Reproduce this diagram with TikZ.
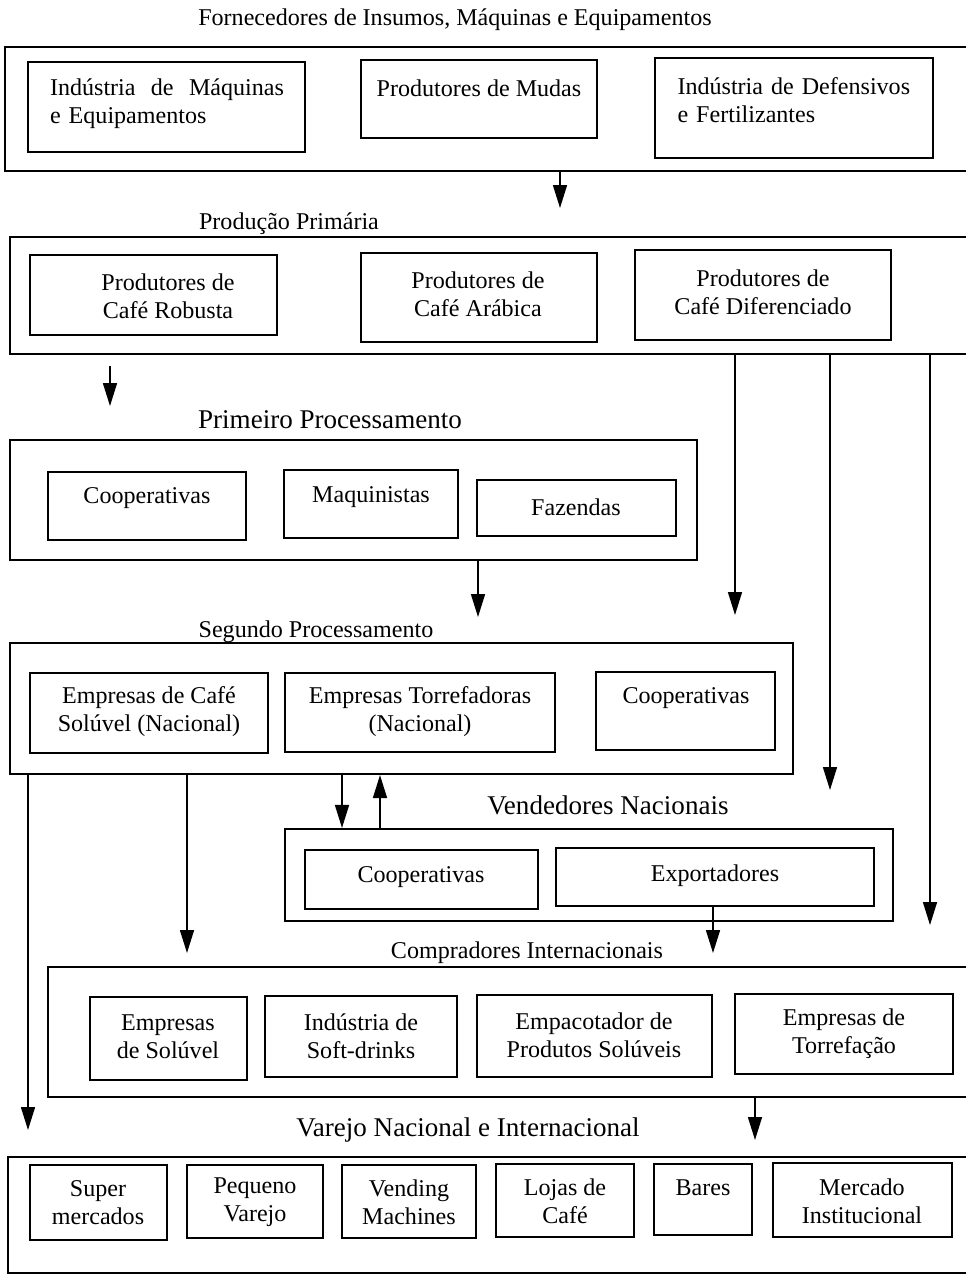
\documentclass[tikz,border=0pt]{standalone}
\usepackage{fontspec}
\setmainfont{Liberation Serif}
\usetikzlibrary{arrows.meta, fit}
\tikzset{
  caixa/.style = {draw=black, line width=1.2pt, inner sep=0pt},
  grupo/.style = {caixa},
  txt/.style = {align=center, inner sep=0pt,
    font=\fontsize{13.7}{15.9}\selectfont},
  tit/.style = {txt},
  tit_g/.style = {txt, font=\fontsize{15.4}{18}\selectfont},
  seta/.style = {line width=0.9pt, -{Triangle[length=0.46cm, width=0.28cm]}}}

\begin{document}
\begin{tikzpicture}[x=0.02cm, y=-0.02cm]
 \useasboundingbox (0,0) rectangle (966,1276);
 \clip (0,0) rectangle (966,1276);

% fornecedores
\node [tit] (t_forn) at (455,20) {Fornecedores de Insumos, Máquinas e Equipamentos};
\node [grupo, fit={(5,47) (975,171)}] (forn) {};
\node [caixa, fit={(28,62) (305,152)}] (b_maq) {};
\node [txt, text width=4.68cm, align=left] (t_maq) at (167,104)
	{Indústria \hfill de \hfill Máquinas\\e Equipamentos};
\node [caixa, fit={(361,60) (597,138)}] (b_mudas) {};
\node [txt] (t_mudas) at (479,88) {Produtores de Mudas};
\node [caixa, fit={(655,58) (933,158)}] (b_def) {};
\node [txt, text width=4.66cm, align=left] (t_def) at (794,100)
	{Indústria de Defensivos\\e Fertilizantes};

% producao primaria
\node [tit] (t_prim) at (289,224) {Produção Primária};
\node [grupo, fit={(10,237) (975,354)}] (prim) {};
\node [caixa, fit={(30,255) (277,335)}] (b_rob) {};
\node [txt] (t_rob) at (168,296) {Produtores de\\Café Robusta};
\node [caixa, fit={(361,253) (597,342)}] (b_arab) {};
\node [txt] (t_arab) at (478,294) {Produtores de\\Café Arábica};
\node [caixa, fit={(635,250) (891,340)}] (b_dif) {};
\node [txt] (t_dif) at (763,292) {Produtores de\\Café Diferenciado};

% primeiro processamento
\node [tit_g] (t_pp) at (330,420) {Primeiro Processamento};
\node [grupo, fit={(10,440) (697,560)}] (pp) {};
\node [caixa, fit={(48,472) (246,540)}] (b_coop1) {};
\node [txt] (t_coop1) at (147,498) {Cooperativas};
\node [caixa, fit={(284,470) (458,538)}] (b_maqu) {};
\node [txt] (t_maqu) at (371,497) {Maquinistas};
\node [caixa, fit={(477,480) (676,536)}] (b_faz) {};
\node [txt] (t_faz) at (576,507) {Fazendas};

% segundo processamento
\node [tit] (t_sp) at (316,632) {Segundo Processamento};
\node [grupo, fit={(10,643) (793,774)}] (sp) {};
\node [caixa, fit={(30,673) (268,753)}] (b_sol) {};
\node [txt] (t_sol) at (149,712) {Empresas de Café\\Solúvel (Nacional)};
\node [caixa, fit={(285,673) (555,752)}] (b_torr) {};
\node [txt] (t_torr) at (420,712) {Empresas Torrefadoras\\(Nacional)};
\node [caixa, fit={(596,672) (775,750)}] (b_coop2) {};
\node [txt] (t_coop2) at (686,698) {Cooperativas};

% vendedores nacionais
\node [tit_g] (t_vn) at (608,805) {Vendedores Nacionais};
\node [grupo, fit={(285,829) (893,921)}] (vn) {};
\node [caixa, fit={(305,850) (538,909)}] (b_coop3) {};
\node [txt] (t_coop3) at (421,877) {Cooperativas};
\node [caixa, fit={(556,848) (874,906)}] (b_exp) {};
\node [txt] (t_exp) at (715,876) {Exportadores};

% compradores internacionais
\node [tit] (t_ci) at (527,953) {Compradores Internacionais};
\node [grupo, fit={(48,967) (975,1097)}] (ci) {};
\node [caixa, fit={(90,997) (247,1080)}] (b_esol) {};
\node [txt] (t_esol) at (168,1037) {Empresas\\de Solúvel};
\node [caixa, fit={(265,996) (457,1077)}] (b_soft) {};
\node [txt] (t_soft) at (361,1036) {Indústria de\\Soft-drinks};
\node [caixa, fit={(477,995) (712,1077)}] (b_emp) {};
\node [txt] (t_emp) at (594,1035) {Empacotador de\\Produtos Solúveis};
\node [caixa, fit={(735,994) (953,1074)}] (b_etor) {};
\node [txt] (t_etor) at (844,1034) {Empresas de\\Torrefação};

% varejo
\node [tit_g] (t_var) at (468,1130) {Varejo Nacional e Internacional};
\node [grupo, fit={(8,1157) (975,1273)}] (var) {};
\node [caixa, fit={(30,1165) (167,1240)}] (b_sup) {};
\node [txt] (t_sup) at (98,1203) {Super\\mercados};
\node [caixa, fit={(187,1165) (323,1238)}] (b_peq) {};
\node [txt] (t_peq) at (255,1202) {Pequeno\\Varejo};
\node [caixa, fit={(342,1165) (476,1238)}] (b_vend) {};
\node [txt] (t_vend) at (409,1202) {Vending\\Machines};
\node [caixa, fit={(496,1164) (634,1237)}] (b_lojas) {};
\node [txt] (t_lojas) at (565,1201) {Lojas de\\Café};
\node [caixa, fit={(654,1164) (752,1235)}] (b_bares) {};
\node [txt] (t_bares) at (703,1188) {Bares};
\node [caixa, fit={(773,1163) (952,1237)}] (b_merc) {};
\node [txt] (t_merc) at (862,1201) {Mercado\\Institucional};

% setas
\coordinate (s1) at (560,208);
\coordinate (s2a) at (110,366);
\coordinate (s2) at (110,406);
\coordinate (s3) at (735,615);
\coordinate (s4) at (830,790);
\coordinate (s5) at (930,925);
\coordinate (s6) at (478,617);
\coordinate (s7) at (342,0);
\coordinate (s8) at (380,0);
\coordinate (s9) at (28,1130);
\coordinate (s10) at (187,953);
\coordinate (s11) at (713,953);
\coordinate (s12) at (755,1140);

\draw [seta] (forn.south -| s1) -- (s1);
\draw [seta] (s2a) -- (s2);
\draw [seta] (prim.south -| s3) -- (s3);
\draw [seta] (prim.south -| s4) -- (s4);
\draw [seta] (prim.south -| s5) -- (s5);
\draw [seta] (pp.south -| s6) -- (s6);
\draw [seta] (sp.south -| s7) -- (vn.north -| s7);
\draw [seta] (vn.north -| s8) -- (sp.south -| s8);
\draw [seta] (sp.south -| s9) -- (s9);
\draw [seta] (sp.south -| s10) -- (s10);
\draw [seta] (b_exp.south -| s11) -- (s11);
\draw [seta] (ci.south -| s12) -- (s12);
\end{tikzpicture}
\end{document}
